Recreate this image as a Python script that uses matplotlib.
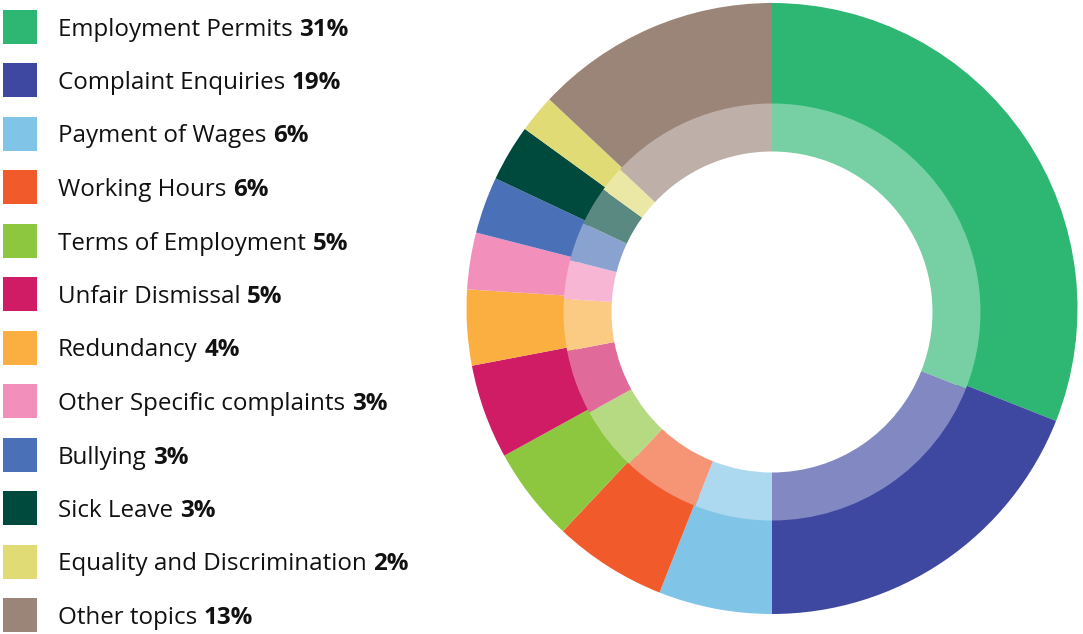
import matplotlib
matplotlib.use("Agg")
import matplotlib.pyplot as plt
from matplotlib.colors import to_rgb

categories = ["Employment Permits", "Complaint Enquiries", "Payment of Wages", "Working Hours",
              "Terms of Employment", "Unfair Dismissal", "Redundancy", "Other Specific complaints",
              "Bullying", "Sick Leave", "Equality and Discrimination", "Other topics"]
values = [31, 19, 6, 6, 5, 5, 4, 3, 3, 3, 2, 13]
colors = ["#2EB773", "#3F48A0", "#80C5E8", "#F15B2C", "#8DC63F", "#CF1C65",
          "#FBAF40", "#F28FBB", "#4A70B7", "#004A3D", "#E1DB75", "#9B8579"]

def lighten(c, f=0.35):
    r, g, b = to_rgb(c)
    return (r + (1 - r) * f, g + (1 - g) * f, b + (1 - b) * f)

W, H = 1083, 634
fig = plt.figure(figsize=(W / 100, H / 100), dpi=100)
ax = fig.add_axes([0, 0, 1, 1])

cx = 772
cy_out, cy_in = H - 308.5, H - 312
R_out, R_mid, R_in = 305.5, 208.5, 160.5

ax.pie(values, colors=colors, radius=R_out, center=(cx, cy_out), startangle=90,
       counterclock=False, wedgeprops=dict(width=R_out - R_mid + 8, linewidth=0))
ax.pie(values, colors=[lighten(c) for c in colors], radius=R_mid, center=(cx, cy_in),
       startangle=90, counterclock=False, wedgeprops=dict(width=R_mid - R_in, linewidth=0))

ax.set_xlim(0, W)
ax.set_ylim(0, H)
ax.set_aspect("equal")
ax.axis("off")

font = "Open Sans"
fs = 17.4
y0, dy = 26.5, 53.5
for i, (cat, v, c) in enumerate(zip(categories, values, colors)):
    yc = H - (y0 + i * dy)
    ax.add_patch(plt.Rectangle((3, yc - 17), 34, 34, color=c, linewidth=0))
    t = ax.text(58, yc, cat, fontsize=fs, family=font, color="#111111",
                va="center_baseline", ha="left")
    ax.annotate(f"{v}%", xy=(1, 0), xycoords=t, xytext=(4.8, 0), textcoords="offset points",
                fontsize=fs, family=font, fontweight="bold", color="#111111",
                va="bottom", ha="left")

fig.savefig("out.png", dpi=100)
